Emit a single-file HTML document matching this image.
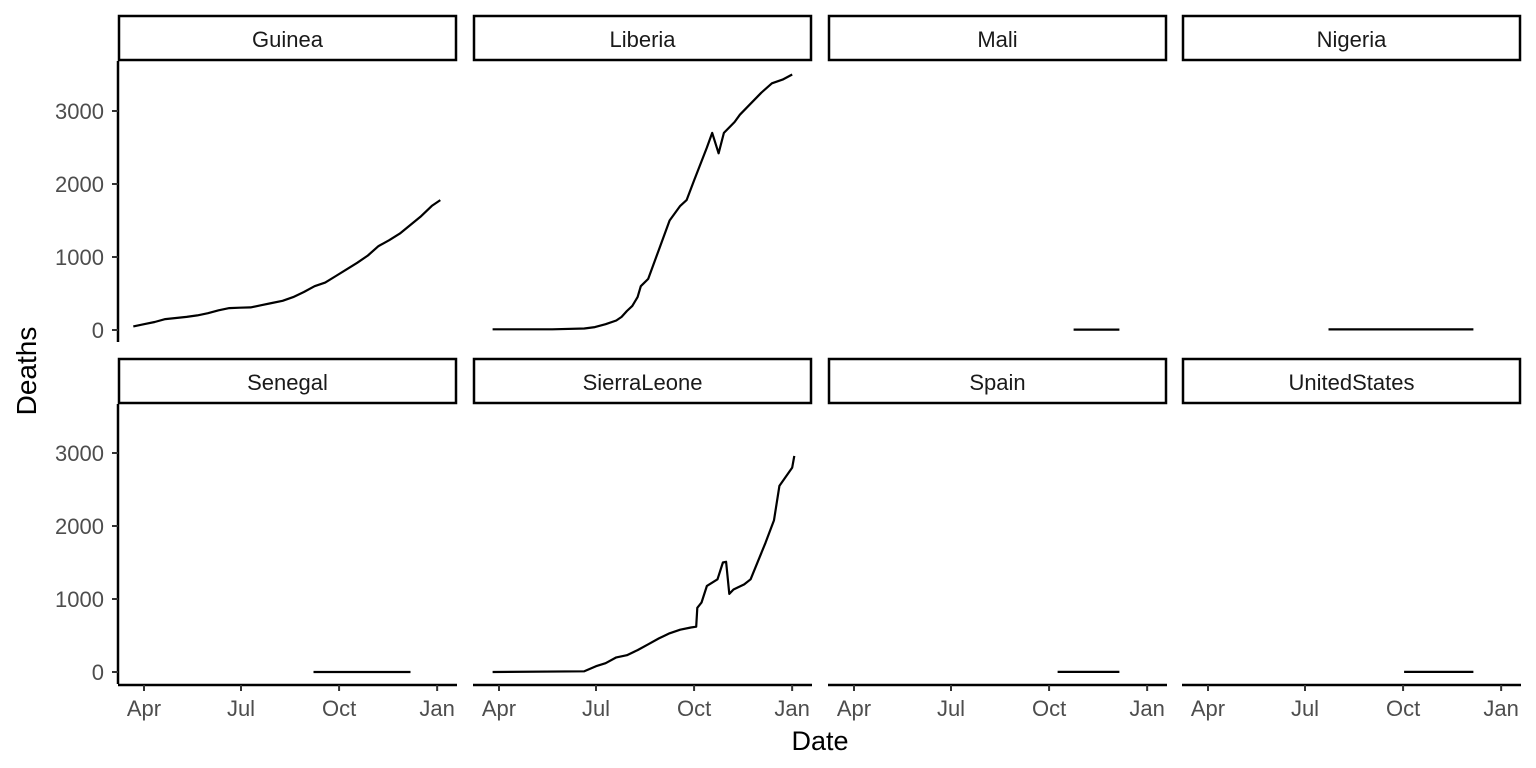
<!DOCTYPE html>
<html><head><meta charset="utf-8"><style>
body{margin:0;background:#fff;font-family:"Liberation Sans",sans-serif}
svg{display:block}
</style></head><body>
<svg id="chart" width="1536" height="768" xmlns="http://www.w3.org/2000/svg"></svg>
<script>
const countries = ["Guinea","Liberia","Mali","Nigeria","Senegal","SierraLeone","Spain","UnitedStates"];
// day offsets since 2014-04-01
const guineaDays = [-10,0,10,20,30,40,50,60,70,80,90,100,110,120,130,140,150,160,170,180,190,200,210,220,230,240,250,260,270,278];
const guineaDeaths = [49,80,110,150,165,180,200,230,270,300,305,310,340,370,400,450,520,600,650,740,830,920,1020,1150,1230,1320,1440,1560,1700,1780];
const liberiaDays = [-6,0,50,80,90,100,110,115,120,125,130,133,140,150,160,170,176,183,195,200,206,211,221,226,236,246,256,266,275];
const liberiaDeaths = [10,10,10,20,40,80,130,180,260,330,450,600,700,1100,1500,1700,1780,2050,2500,2700,2420,2700,2850,2950,3100,3250,3380,3430,3500];
const maliDays = [206,249];
const maliDeaths = [6,6];
const nigeriaDays = [113,249];
const nigeriaDeaths = [8,8];
const senegalDays = [159,250];
const senegalDeaths = [0,0];
const sierraDays = [-6,80,91,100,110,120,130,140,150,160,170,180,185,186,190,195,205,210,213,216,220,230,236,250,258,263,275,277];
const sierraDeaths = [0,10,80,120,200,230,300,380,460,530,580,610,620,880,950,1180,1270,1500,1510,1070,1130,1200,1270,1770,2080,2550,2800,2960];
const spainDays = [191,249];
const spainDeaths = [1,1];
const usDays = [184,249];
const usDeaths = [1,1];
const series = [[guineaDays,guineaDeaths],[liberiaDays,liberiaDeaths],[maliDays,maliDeaths],[nigeriaDays,nigeriaDeaths],[senegalDays,senegalDeaths],[sierraDays,sierraDeaths],[spainDays,spainDeaths],[usDays,usDeaths]];
const yTicks = [0,1000,2000,3000];
const xTickLabels = ["Apr","Jul","Oct","Jan"];
const xTickDays = [0,91,183,275];

const NS="http://www.w3.org/2000/svg";
const svg=document.getElementById('chart');
function mk(tag,attrs,parent){const e=document.createElementNS(NS,tag);for(const k in attrs)e.setAttribute(k,attrs[k]);(parent||svg).appendChild(e);return e;}
const colX=[118,473,828,1182], panelW=339;
const rowTop=[61,404], rowZero=[330,672];
const xScale=(c,d)=>colX[c]+26+d*1.066;
const yScale=(r,v)=>rowZero[r]-v*0.073;

countries.forEach((name,i)=>{
  const r=Math.floor(i/4), c=i%4;
  const g=mk('g',{});
  
  
  const st=mk('rect',{x:colX[c]+1,y:rowTop[r]-45,width:panelW-2,height:44,fill:'#fff',stroke:'#000','stroke-width':2.5},g);
  
  
  const t=mk('text',{x:colX[c]+panelW/2,y:rowTop[r]-14,'text-anchor':'middle','font-size':22,fill:'#1a1a1a'},g);
  t.textContent=name;
  
  
  const [ds,vs]=series[i];
  const pts=ds.map((d,k)=>xScale(c,d).toFixed(1)+','+yScale(r,vs[k]).toFixed(1)).join(' ');
  const pl=mk('polyline',{points:pts,fill:'none',stroke:'#000','stroke-width':2.2,'stroke-linejoin':'round'},g);
  
  
  if(c===0){
    const ax=mk('line',{x1:colX[c],x2:colX[c],y1:rowTop[r],y2:rowZero[r]+12,stroke:'#000','stroke-width':2.5},g);
    
    
    yTicks.forEach(v=>{
      const y=yScale(r,v);
      mk('line',{x1:colX[c]-6,x2:colX[c],y1:y,y2:y,stroke:'#333','stroke-width':2},g);
      const tl=mk('text',{x:colX[c]-14,y:y+8,'text-anchor':'end','font-size':22,fill:'#4d4d4d'},g);
      tl.textContent=v;
      
      
    });
  }
  if(r===1){
    const bx=mk('line',{x1:colX[c],x2:colX[c]+panelW,y1:685,y2:685,stroke:'#000','stroke-width':2.5},g);
    
    
    xTickDays.forEach((d,k)=>{
      const x=xScale(c,d);
      mk('line',{x1:x,x2:x,y1:685,y2:691,stroke:'#333','stroke-width':2},g);
      const tl=mk('text',{x:x,y:716,'text-anchor':'middle','font-size':22,fill:'#4d4d4d'},g);
      tl.textContent=xTickLabels[k];
      
      
    });
  }
});
const xt=mk('text',{x:820,y:750,'text-anchor':'middle','font-size':27,fill:'#000'});
xt.textContent='Date';


const yt=mk('text',{x:0,y:0,'text-anchor':'middle','font-size':28,fill:'#000',transform:'translate(36,371) rotate(-90)'});
yt.textContent='Deaths';


</script>
</body></html>
